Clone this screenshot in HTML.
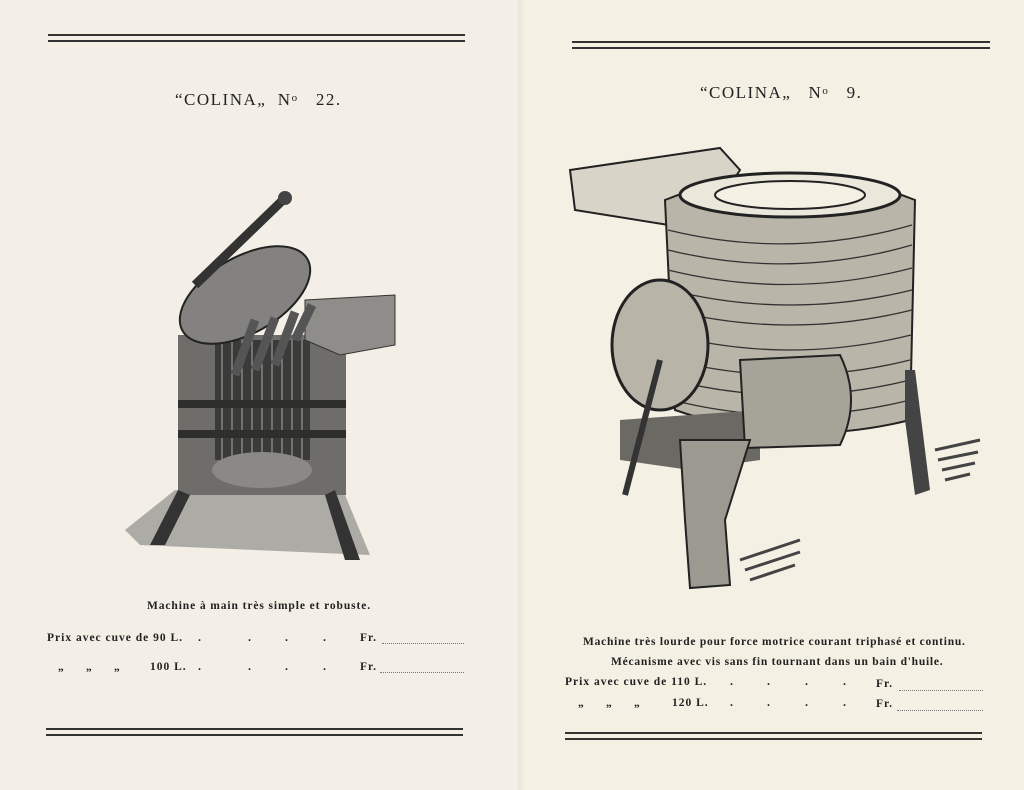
<!DOCTYPE html>
<html><head><meta charset="utf-8"><style>
html,body{margin:0;padding:0}
body{width:1024px;height:790px;position:relative;overflow:hidden;background:#f4f0e4;font-family:"Liberation Serif",serif;color:#222}
.t{position:absolute;white-space:nowrap;font-weight:bold;font-size:11.5px;letter-spacing:1px}
.h{position:absolute;white-space:nowrap;font-size:17px;letter-spacing:1.5px}
.l{position:absolute;height:1.5px;background:#333}
.d{position:absolute;border-bottom:1px dotted #777;height:0}
.p{position:absolute;font-weight:bold;font-size:12px}
</style></head><body>
<div style="position:absolute;left:0;top:0;width:520px;height:790px;background:#f3efe6"></div>
<div style="position:absolute;left:518px;top:0;width:6px;height:790px;background:linear-gradient(90deg,#ebe6d8,#f1ecdf)"></div>

<div class="l" style="left:48px;top:34px;width:417px"></div>
<div class="l" style="left:48px;top:40px;width:417px"></div>
<div class="l" style="left:572px;top:41px;width:418px"></div>
<div class="l" style="left:572px;top:47px;width:418px"></div>
<div class="l" style="left:46px;top:728px;width:417px"></div>
<div class="l" style="left:46px;top:734px;width:417px"></div>
<div class="l" style="left:565px;top:732px;width:417px"></div>
<div class="l" style="left:565px;top:738px;width:417px"></div>

<div class="h" style="left:175px;top:90px">“COLINA„&nbsp;&nbsp;N<span style="font-size:11px;vertical-align:4px">o</span>&nbsp;&nbsp;&nbsp;22.</div>
<div class="h" style="left:700px;top:83px">“COLINA„&nbsp;&nbsp;&nbsp;N<span style="font-size:11px;vertical-align:4px">o</span>&nbsp;&nbsp;&nbsp;9.</div>

<svg width="1024" height="790" style="position:absolute;left:0;top:0">
<path d="M125 530 L175 490 L345 495 L370 555 L140 545 Z" fill="#9a9a96" opacity=".8"/>
<rect x="178" y="335" width="168" height="160" fill="#6e6d6a"/>
<rect x="215" y="340" width="95" height="120" fill="#3a3a38"/>
<g stroke="#aaa" stroke-width="1">
<line x1="222" y1="340" x2="222" y2="460"/><line x1="232" y1="340" x2="232" y2="460"/><line x1="242" y1="340" x2="242" y2="460"/><line x1="252" y1="340" x2="252" y2="460"/><line x1="262" y1="340" x2="262" y2="460"/><line x1="272" y1="340" x2="272" y2="460"/><line x1="282" y1="340" x2="282" y2="460"/><line x1="292" y1="340" x2="292" y2="460"/><line x1="302" y1="340" x2="302" y2="460"/></g>
<ellipse cx="262" cy="470" rx="50" ry="18" fill="#8a8985"/>
<rect x="178" y="400" width="168" height="8" fill="#2e2e2c"/>
<rect x="178" y="430" width="168" height="8" fill="#2e2e2c"/>
<path d="M178 490 L150 545 L165 545 L190 495 Z" fill="#333"/>
<path d="M335 490 L360 560 L345 560 L325 495 Z" fill="#333"/>
<path d="M305 300 L395 295 L395 345 L340 355 L305 340 Z" fill="#8e8d89" stroke="#333"/>
<ellipse cx="245" cy="295" rx="72" ry="38" transform="rotate(-30 245 295)" fill="#838280" stroke="#222" stroke-width="2"/>
<path d="M235 375 L255 320 M255 370 L275 318 M275 365 L295 312 M295 340 L312 305" stroke="#555" stroke-width="9"/>
<path d="M195 285 L285 198" stroke="#333" stroke-width="9"/>
<circle cx="285" cy="198" r="7" fill="#444"/>
<path d="M570 170 L720 148 L740 170 L700 230 L575 210 Z" fill="#d8d4c8" stroke="#222" stroke-width="2"/>
<path d="M665 200 Q790 150 915 200 L910 420 Q790 450 675 410 Z" fill="#b9b5a8" stroke="#222" stroke-width="2"/>
<g stroke="#333" stroke-width="1.3" fill="none">
<path d="M668 230 Q790 260 912 225"/><path d="M668 250 Q790 280 912 245"/><path d="M668 270 Q790 300 912 268"/><path d="M670 290 Q790 320 912 290"/><path d="M670 310 Q790 340 912 310"/><path d="M670 335 Q790 365 911 335"/><path d="M672 360 Q790 390 910 360"/><path d="M672 380 Q790 410 910 380"/><path d="M672 400 Q790 430 910 400"/>
</g>
<ellipse cx="790" cy="195" rx="110" ry="22" fill="#ebe7db" stroke="#222" stroke-width="3"/>
<ellipse cx="790" cy="195" rx="75" ry="14" fill="#f4f0e4" stroke="#222" stroke-width="2"/>
<ellipse cx="660" cy="345" rx="48" ry="65" fill="#b8b4a8" stroke="#222" stroke-width="3"/>
<path d="M620 420 L760 410 L760 460 L690 470 L620 460 Z" fill="#6a6964"/>
<path d="M740 360 L840 355 Q862 400 840 445 L745 448 Z" fill="#a6a398" stroke="#222" stroke-width="2"/>
<path d="M680 440 L750 440 L725 520 L730 585 L690 588 L685 520 Z" fill="#9c9990" stroke="#222" stroke-width="2"/>
<path d="M905 370 L915 370 L930 490 L915 495 L905 420 Z" fill="#444"/>
<path d="M660 360 L625 495" stroke="#333" stroke-width="6"/>
<path d="M935 450 L980 440 M938 460 L978 452 M942 470 L975 463 M945 480 L970 474" stroke="#444" stroke-width="3"/>
<path d="M740 560 L800 540 M745 570 L800 552 M750 580 L795 565" stroke="#444" stroke-width="3"/>
</svg>

<div class="t" style="left:147px;top:600px;letter-spacing:0.9px">Machine à main très simple et robuste.</div>
<div class="t" style="left:47px;top:632px">Prix avec cuve de 90 L.</div>
<div class="t" style="left:58px;top:661px">„</div><div class="t" style="left:86px;top:661px">„</div><div class="t" style="left:114px;top:661px">„</div>
<div class="t" style="left:150px;top:661px">100 L.</div>
<div class="p" style="left:198px;top:630px">.</div><div class="p" style="left:248px;top:630px">.</div><div class="p" style="left:285px;top:630px">.</div><div class="p" style="left:323px;top:630px">.</div>
<div class="p" style="left:198px;top:659px">.</div><div class="p" style="left:248px;top:659px">.</div><div class="p" style="left:285px;top:659px">.</div><div class="p" style="left:323px;top:659px">.</div>
<div class="t" style="left:360px;top:632px">Fr.</div><div class="d" style="left:382px;top:643px;width:82px"></div>
<div class="t" style="left:360px;top:661px">Fr.</div><div class="d" style="left:380px;top:672px;width:84px"></div>

<div class="t" style="left:583px;top:636px;letter-spacing:0.75px">Machine très lourde pour force motrice courant triphasé et continu.</div>
<div class="t" style="left:611px;top:656px;letter-spacing:0.75px">Mécanisme avec vis sans fin tournant dans un bain d'huile.</div>
<div class="t" style="left:565px;top:676px">Prix avec cuve de 110 L.</div>
<div class="t" style="left:578px;top:697px">„</div><div class="t" style="left:606px;top:697px">„</div><div class="t" style="left:634px;top:697px">„</div>
<div class="t" style="left:672px;top:697px">120 L.</div>
<div class="p" style="left:730px;top:674px">.</div><div class="p" style="left:767px;top:674px">.</div><div class="p" style="left:805px;top:674px">.</div><div class="p" style="left:843px;top:674px">.</div>
<div class="p" style="left:730px;top:695px">.</div><div class="p" style="left:767px;top:695px">.</div><div class="p" style="left:805px;top:695px">.</div><div class="p" style="left:843px;top:695px">.</div>
<div class="t" style="left:876px;top:678px">Fr.</div><div class="d" style="left:899px;top:690px;width:84px"></div>
<div class="t" style="left:876px;top:698px">Fr.</div><div class="d" style="left:897px;top:710px;width:86px"></div>
</body></html>
